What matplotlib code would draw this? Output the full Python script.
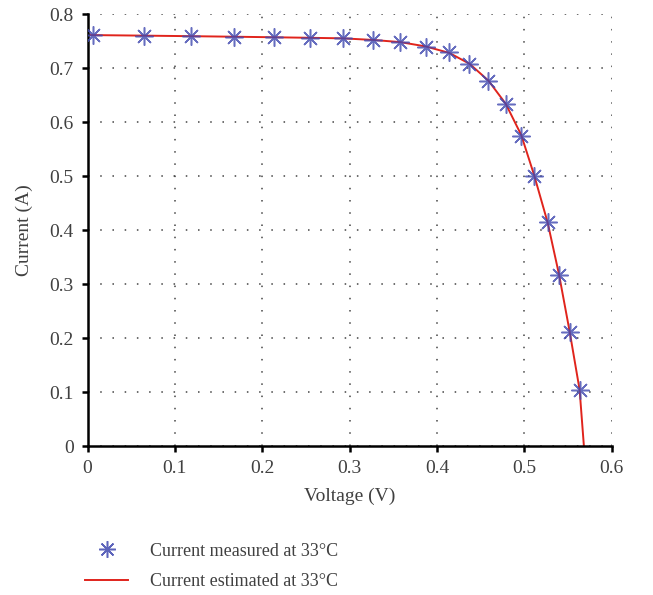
import matplotlib.pyplot as plt
from matplotlib.lines import Line2D

# Measured I-V points at 33°C
voltage_meas = [0.0066, 0.0646, 0.118, 0.168, 0.213, 0.2546, 0.292, 0.327, 0.358,
                0.387, 0.414, 0.437, 0.4586, 0.4785, 0.4963, 0.511, 0.5265,
                0.5395, 0.5517, 0.5631]
current_meas = [0.761, 0.759, 0.759, 0.757, 0.757, 0.755, 0.755, 0.752, 0.748,
                0.739, 0.729, 0.707, 0.6765, 0.633, 0.574, 0.500, 0.414,
                0.3167, 0.2117, 0.103]

# Estimated curve (traced along the red line, which runs through the stars)
voltage_est = [0.0, 0.0066, 0.0646, 0.118, 0.168, 0.213, 0.2546, 0.292, 0.327,
               0.358, 0.387, 0.414, 0.437, 0.4586, 0.4785, 0.4963, 0.511,
               0.5265, 0.5395, 0.5517, 0.5631, 0.568]
current_est = [0.761, 0.761, 0.760, 0.759, 0.758, 0.757, 0.756, 0.755, 0.752,
               0.748, 0.740, 0.728, 0.708, 0.677, 0.634, 0.576, 0.502,
               0.414, 0.318, 0.212, 0.104, 0.0]

plt.rcParams['font.family'] = ['Liberation Serif', 'DejaVu Serif']
plt.rcParams['font.size'] = 14

TEXT = '#404040'
BLUE = '#4049b0'
RED = '#e0241c'

fig = plt.figure(figsize=(6.53, 5.95), dpi=100)
ax = fig.add_axes([0.134, 0.2504, 0.803, 0.726])

ax.plot(voltage_est, current_est, color=RED, lw=1.4, zorder=2)
ax.plot(voltage_meas, current_meas, linestyle='none', marker=(8, 2, 0),
        markersize=13, markeredgewidth=1.1, color=BLUE, alpha=0.8, zorder=3)

ax.set_xlim(0, 0.6)
ax.set_ylim(0, 0.8)
ax.set_xticks([0, 0.1, 0.2, 0.3, 0.4, 0.5, 0.6])
ax.set_xticklabels(['0', '0.1', '0.2', '0.3', '0.4', '0.5', '0.6'])
ax.set_yticks([0, 0.1, 0.2, 0.3, 0.4, 0.5, 0.6, 0.7, 0.8])
ax.set_yticklabels(['0', '0.1', '0.2', '0.3', '0.4', '0.5', '0.6', '0.7', '0.8'])

ax.grid(True, linestyle=(0, (1, 7)), color='#444444', linewidth=1.1)
ax.set_axisbelow(True)
for s in ['top', 'right']:
    ax.spines[s].set_visible(False)
for s in ['left', 'bottom']:
    ax.spines[s].set_linewidth(1.8)
    ax.spines[s].set_color('black')
ax.tick_params(direction='out', length=4, width=1.8, colors='black',
               labelcolor=TEXT, labelsize=14, pad=6)

ax.set_xlabel('Voltage (V)', color=TEXT, fontsize=14, labelpad=8)
ax.set_ylabel('Current (A)', color=TEXT, fontsize=14, labelpad=12)

handles = [
    Line2D([], [], linestyle='none', marker=(8, 2, 0), markersize=12,
           markeredgewidth=1.1, color=BLUE, alpha=0.85),
    Line2D([], [], color=RED, lw=1.4),
]
labels = ['Current measured at 33°C', 'Current estimated at 33°C']
leg = fig.legend(handles, labels, loc='upper left', bbox_to_anchor=(0.13, 0.088),
                 frameon=False, borderpad=0, borderaxespad=0, handlelength=2.4,
                 handletextpad=1.2, labelspacing=0.75, fontsize=13)
for t in leg.get_texts():
    t.set_color(TEXT)

fig.savefig('out.png', dpi=100)
